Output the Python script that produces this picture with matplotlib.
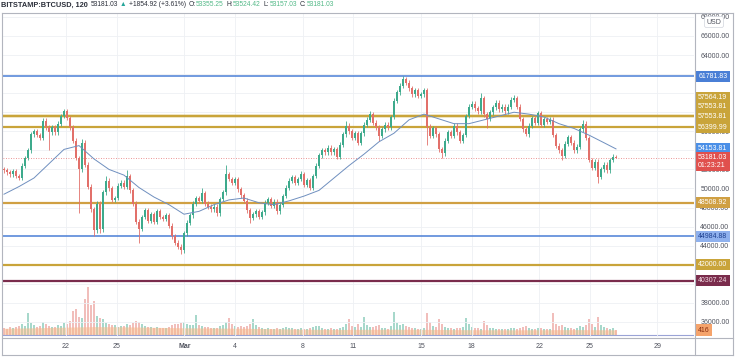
import matplotlib

matplotlib.use("agg")
import matplotlib.pyplot as plt
import numpy as np

# BITSTAMP:BTCUSD, candles (prices in thousands USD)
closes = [
    51.9, 51.7, 51.5, 51.8, 51.3, 51.1, 52.4, 53.2, 54.0, 55.7,
    56.0, 55.6, 55.3, 57.1, 56.4, 55.9, 56.4, 55.9, 56.8, 57.6,
    58.1, 57.4, 56.4, 55.0, 53.2, 52.0, 54.8, 52.5, 50.2, 47.8,
    45.6, 48.4, 45.7, 49.6, 50.8, 50.0, 48.8, 49.0, 50.3, 50.6,
    50.2, 51.3, 49.8, 48.4, 46.5, 45.8, 47.0, 47.7, 46.6, 47.3,
    46.5, 47.6, 47.0, 46.8, 47.2, 46.1, 45.0, 44.3, 43.9, 43.5,
    45.3, 46.4, 47.2, 48.4, 49.0, 48.7, 49.5, 48.4, 48.1, 47.8,
    48.1, 47.4, 48.9, 49.6, 51.5, 51.0, 50.6, 51.0, 49.9, 49.3,
    48.7, 47.7, 46.9, 47.3, 47.6, 47.0, 47.5, 48.5, 48.9, 48.2,
    48.6, 47.6, 48.3, 49.2, 50.1, 50.8, 51.2, 50.6, 51.0, 51.5,
    50.4, 50.9, 50.1, 51.3, 52.4, 53.5, 54.0, 53.8, 54.3, 53.8,
    54.1, 53.3, 54.6, 55.7, 56.6, 56.0, 55.3, 55.8, 54.8, 55.8,
    56.7, 57.2, 57.8, 56.9, 56.4, 55.5, 56.2, 56.7, 56.4, 57.5,
    59.2, 60.1, 60.8, 61.5, 61.1, 60.5, 59.9, 60.3, 59.7, 59.9,
    60.3, 56.5, 55.5, 56.3, 55.7, 54.1, 53.7, 55.0, 55.9, 55.5,
    56.6, 55.9, 55.0, 55.6, 57.6, 58.6, 58.9, 58.4, 58.1, 59.5,
    57.8, 57.3, 58.0, 58.5, 59.0, 58.3, 58.6, 58.1, 58.6, 59.3,
    59.5, 58.6, 57.3, 56.2, 55.7, 56.6, 57.4, 56.9, 57.9, 56.7,
    57.3, 57.0, 57.2, 55.6, 54.5, 54.0, 53.4, 54.7, 55.4, 54.8,
    54.0, 54.4, 56.2, 56.8, 55.3, 53.0, 52.2, 52.8, 51.2, 52.0,
    52.5, 51.9, 53.0, 53.355, 53.181,
]
first_open = 52.0

# long wicks: candle index -> (high, low), None keeps the short default wick
spikes = {
    13: (57.4, None), 15: (None, 54.0), 20: (58.35, None), 25: (None, 47.4),
    26: (55.2, None), 30: (None, 45.0), 32: (None, 45.3), 34: (51.3, None),
    41: (51.9, None), 45: (None, 44.3), 59: (None, 43.1), 66: (50.0, None),
    71: (None, 47.1), 74: (52.5, None), 82: (None, 46.4), 91: (None, 47.3),
    99: (51.8, None), 114: (57.1, None), 118: (None, 54.6), 122: (58.1, None),
    125: (None, 55.0), 133: (61.85, None), 141: (None, 54.6), 146: (None, 53.2),
    159: (60.0, None), 161: (None, 56.3), 170: (59.8, None), 174: (None, 55.5),
    178: (58.1, None), 186: (None, 53.0), 193: (57.2, None), 198: (None, 50.6),
    204: (53.524, 53.157),
}

volumes = [
    620, 540, 700, 580, 650, 720, 900, 760, 1800, 980,
    820, 700, 760, 1100, 880, 760, 650, 700, 820, 760,
    980, 900, 1200, 2000, 2200, 1500, 1400, 3000, 4000, 2500,
    2800, 1600, 1400, 1300, 1000, 900, 860, 800, 700, 760,
    720, 900, 860, 1000, 1200, 1100, 900, 760, 700, 650,
    600, 680, 620, 560, 600, 700, 820, 900, 880, 1000,
    1100, 900, 800, 860, 1700, 800, 760, 700, 640, 600,
    580, 620, 760, 820, 1100, 1400, 900, 760, 700, 720,
    680, 760, 900, 1300, 800, 640, 560, 520, 600, 540,
    480, 560, 520, 600, 680, 620, 560, 520, 500, 560,
    520, 480, 560, 640, 720, 760, 620, 540, 500, 560,
    520, 480, 620, 700, 900, 1300, 760, 640, 900, 680,
    1500, 820, 700, 640, 720, 800, 620, 560, 540, 760,
    1900, 1000, 860, 900, 760, 680, 600, 560, 520, 540,
    600, 1800, 1100, 760, 700, 1300, 900, 700, 600, 560,
    520, 560, 620, 640, 1400, 900, 700, 600, 560, 520,
    1200, 800, 600, 560, 520, 480, 500, 460, 520, 560,
    600, 540, 620, 700, 760, 600, 520, 480, 560, 620,
    500, 480, 520, 1800, 900, 760, 820, 700, 600, 560,
    520, 600, 760, 700, 820, 1300, 900, 700, 1500, 820,
    640, 560, 520, 600, 416,
]
# volume average, one value every 10 candles (last one at the final candle)
vol_avg = [560, 600, 650, 700, 680, 640, 600, 580, 560, 520, 480,
           460, 470, 480, 470, 450, 440, 430, 440, 450, 440, 430]

# moving average line, one value every 5 candles (last one at the final candle)
ma_values = [
    49.4, 50.2, 51.1, 52.6, 54.1, 54.5, 53.1, 52.0, 51.4, 50.1,
    49.1, 48.3, 47.3, 47.6, 48.3, 48.8, 49.0, 48.5, 48.3, 48.7,
    49.2, 49.8, 51.1, 52.4, 53.6, 54.9, 55.8, 57.2, 57.8, 57.3,
    56.8, 56.8, 57.2, 57.6, 58.0, 57.8, 57.5, 56.8, 56.3, 55.6,
    54.8, 54.15381,
]

# horizontal levels: (price, line colour, label bg, label text colour, label shift px)
levels = [
    (61781.83, "#4a7fd6", "#4a7fd6", "white", 0),
    (57564.19, "#c9a43a", "#c9a43a", "white", 18.5),
    (57553.81, "#c9a43a", "#c9a43a", "white", 9.5),
    (57553.81, "#c9a43a", "#c9a43a", "white", 0),
    (56399.99, "#c9a43a", "#c9a43a", "white", 0),
    (48508.92, "#d0a043", "#d0a043", "white", 0),
    (44984.88, "#4a7fd6", "#8fb1ee", "#1d3f8f", 0),
    (42000.00, "#c9a43a", "#c9a43a", "white", 0),
    (40307.24, "#7a2c4c", "#7a2c4c", "#f3dbe3", 0),
]
last_price = 53181.03
ma_last = 54153.81

# price scale ticks; the ones fully covered by level tags are left blank
price_ticks = list(range(36000, 68001, 2000))
covered_ticks = [40000, 42000, 54000, 58000, 60000, 62000]

tick_days = [0, 3, 7, 10, 14, 17, 21, 24, 28, 31, 35]   # days after Feb 22
tick_labels = ["22", "25", "Mar", "4", "8", "11", "15", "18", "22", "25", "29"]

# header pieces: (text, colour, gap after in px, bold)
header = [
    ("BITSTAMP:BTCUSD, 120", "#2a2e39", 3, True),
    ("53181.03", "#2a2e39", 2, False),
    ("\u25b2", "#26a69a", 2, False),
    ("+1854.92 (+3.61%)", "#2a2e39", 3, False),
    ("O:", "#2a2e39", 0, False), ("53355.25", "#53b987", 3, False),
    ("H:", "#2a2e39", 0, False), ("53524.42", "#53b987", 3, False),
    ("L:", "#2a2e39", 0, False), ("53157.03", "#53b987", 3, False),
    ("C:", "#2a2e39", 0, False), ("53181.03", "#53b987", 0, False),
]

W, H = 736, 358
UP, DOWN = "#3daa8c", "#e2706a"


def fx(x):
    return x / W


def fy(y):
    return 1 - y / H


def main():
    plt.rcParams["font.family"] = ["Liberation Sans", "DejaVu Sans"]

    fig = plt.figure(figsize=(W / 100, H / 100), dpi=100)
    fig.patch.set_facecolor("white")
    ax = fig.add_axes([fx(3), fy(337), fx(691), 324 / H])
    vax = ax.twinx()

    n = len(closes)
    start, step = -3.669, 3 / 16.9
    x = start + step * np.arange(n)
    c = np.array(closes) * 1000
    o = np.concatenate([[first_open * 1000], c[:-1]])
    hi = np.maximum(o, c) + 250
    lo = np.minimum(o, c) - 250
    for i, (h, l) in spikes.items():
        if h is not None:
            hi[i] = h * 1000
        if l is not None:
            lo[i] = l * 1000
    up = c >= o
    cols = np.where(up, UP, DOWN)

    # grid
    for p in price_ticks:
        ax.axhline(p, color="#eef0f4", lw=0.6, zorder=0)
    for d in tick_days:
        ax.axvline(d, color="#eef0f4", lw=0.6, zorder=0)

    # levels
    for price, lc, _, _, _ in levels:
        lw = 1.6 if lc != "#4a7fd6" else 1.1
        ax.axhline(price, color=lc, lw=lw, zorder=1)
    ax.axhline(last_price, color="#e57373", lw=0.6, ls=(0, (1, 2)), zorder=1)

    # candles
    ax.vlines(x, lo, hi, colors=cols, lw=0.6, zorder=3)
    body = np.maximum(np.abs(c - o), 60)
    ax.bar(x, body, bottom=np.minimum(o, c), width=step * 0.65,
           color=cols, linewidth=0, zorder=4)

    ma_idx = list(range(0, n, 5)) + [n - 1]
    ax.plot(x[ma_idx], np.array(ma_values) * 1000, color="#6f8fbf",
            lw=0.7, zorder=5)

    ax.set_xlim(-3.728, 37.16)
    ax.set_ylim(34416, 68413)
    for s in ax.spines.values():
        s.set_visible(False)
    ax.yaxis.tick_right()
    ax.set_yticks(price_ticks)
    ax.set_yticklabels(["" if p in covered_ticks else "{:.2f}".format(p)
                        for p in price_ticks])
    ax.tick_params(axis="y", length=0, pad=4.5, labelsize=5, labelcolor="#50535e")
    ax.set_xticks(tick_days)
    ax.set_xticklabels(tick_labels)
    ax.tick_params(axis="x", length=0, pad=4.5, labelsize=5, labelcolor="#50535e")
    for t in ax.get_xticklabels():
        if t.get_text() == "Mar":
            t.set_fontweight("bold")

    # volume pane
    v = np.array(volumes)
    vax.bar(x, v, width=step * 0.65, color=cols, alpha=0.45, linewidth=0)
    va_idx = list(range(0, n, 10)) + [n - 1]
    vax.fill_between(x[va_idx], 0, vol_avg, color="#f6b98a", alpha=0.55, lw=0)
    vax.axhline(0, color="#9aa3d6", lw=0.8)
    vax.set_ylim(-167, 26830)
    vax.set_yticks([])
    for s in vax.spines.values():
        s.set_visible(False)
    ax.set_zorder(vax.get_zorder() + 1)
    ax.patch.set_visible(False)

    # right axis labels
    def tag(price, text, bg, fg, shift=0.0, size=5):
        ax.annotate(text, xy=(1, price), xycoords=("axes fraction", "data"),
                    xytext=(3, shift * 0.72), textcoords="offset points",
                    ha="left", va="center", fontsize=size, color=fg,
                    annotation_clip=False, zorder=10,
                    bbox=dict(boxstyle="square,pad=0.3", fc=bg, ec="none"))

    for price, _, bg, fg, shift in levels:
        tag(price, "{:.2f}".format(price), bg, fg, shift)
    tag(ma_last, "{:.2f}".format(ma_last), "#4a8fe7", "white")
    tag(last_price, "{:.2f}\n01:23:21".format(last_price), "#e0504d",
        "white", -3.5)
    vax.annotate("{}".format(volumes[-1]), xy=(1, volumes[-1]),
                 xycoords=("axes fraction", "data"), xytext=(3, 0),
                 textcoords="offset points", ha="left", va="center",
                 fontsize=5, color="#8a2f10", annotation_clip=False,
                 bbox=dict(boxstyle="square,pad=0.3", fc="#f5a36b", ec="none"))

    # "USD" box at the top of the price scale
    fig.text(fx(714), fy(22), "USD", fontsize=5, color="#50535e", ha="center",
             va="center", bbox=dict(boxstyle="round,pad=0.3", fc="white",
                                    ec="#d1d4dc", lw=0.5))

    # frame
    frame = "#b2b5be"
    for (x0, y0, x1, y1) in [(1.5, 13, 733, 13), (1.5, 13, 1.5, 355),
                             (733, 13, 733, 355), (1.5, 355, 733, 355),
                             (694.5, 13, 694.5, 355), (1.5, 337.5, 733, 337.5)]:
        fig.add_artist(plt.Line2D([fx(x0), fx(x1)], [fy(y0), fy(y1)],
                                  color=frame, lw=0.8))

    # header line, pieces placed one after another
    renderer = fig.canvas.get_renderer()
    cursor = 1.0
    for text, color, gap, bold in header:
        t = fig.text(fx(cursor), fy(5), text, fontsize=5.3 if bold else 4.8,
                     color=color, ha="left", va="center",
                     fontweight="bold" if bold else "normal")
        cursor += t.get_window_extent(renderer).width + gap

    fig.savefig("out.png", dpi=100)
    plt.close(fig)


if __name__ == "__main__":
    main()
